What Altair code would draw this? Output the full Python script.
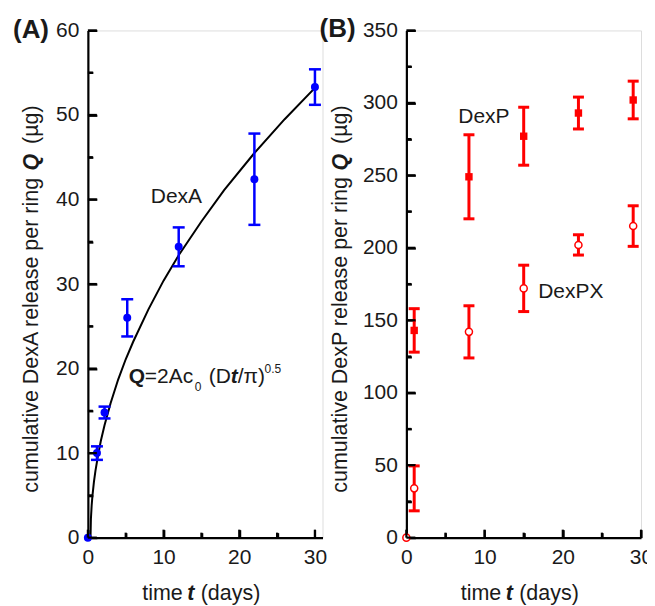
import altair as alt
import pandas as pd

FONT = "Liberation Sans"

# ---------------- Panel A : DexA ----------------
a_t = [0, 1.2, 2.2, 5.2, 12, 22, 30]
a_q = [0, 10.0, 14.8, 26.0, 34.4, 42.4, 53.3]
a_err = [0, 0.8, 0.7, 2.2, 2.3, 5.4, 2.1]

fit_t = [0.35, 0.4, 0.5, 0.6, 0.8, 1.0, 1.3, 1.7, 2.2, 3, 4, 5, 6, 8, 10, 12, 15, 18, 22, 26, 30]
fit_q = [0, 2.2, 3.8, 4.9, 6.6, 7.9, 9.5, 11.4, 13.3, 15.9, 18.7, 21.1, 23.2, 27.0, 30.4, 33.4, 37.4, 41.1, 45.5, 49.5, 53.2]

# ---------------- Panel B : DexP / DexPX ----------------
p_t = [1, 8, 15, 22, 29]
dexp_q = [143, 249, 277, 293, 302]
dexp_err = [15, 29, 20, 11, 13]

px_t = [0, 1, 8, 15, 22, 29]
dexpx_q = [0, 34, 142, 172, 202, 215]
dexpx_err = [0, 15.5, 18, 16, 7, 14]

# ---------------- tick values (major + minor) ----------------
x_ticks = [0, 5, 10, 15, 20, 25, 30]
a_y_ticks = [0, 5, 10, 15, 20, 25, 30, 35, 40, 45, 50, 55, 60]
b_y_ticks = [0, 25, 50, 75, 100, 125, 150, 175, 200, 225, 250, 275, 300, 325, 350]

W, H = 235, 508
TXT = "#1a1a1a"


def label(text, x, y, size=21, weight="normal", style="normal", align="left",
          angle=0, baseline="alphabetic"):
    return alt.Chart(pd.DataFrame({"s": [text]})).mark_text(
        font=FONT, fontSize=size, fontWeight=weight, fontStyle=style,
        align=align, baseline=baseline, angle=angle, color=TXT
    ).encode(x=alt.value(x), y=alt.value(y), text="s:N")


def err_df(t, q, e):
    df = pd.DataFrame({"t": t, "q": q, "e": e})
    df["lo"] = df["q"] - df["e"]
    df["hi"] = df["q"] + df["e"]
    return df


def make_axis(vals, step, major_len, minor_len):
    test = f"datum.value % {step} === 0"
    return alt.Axis(
        values=vals, title=None, grid=False,
        ticks=True, tickColor="black", tickWidth=2.2,
        tickSize={"condition": {"test": test, "expr": f"-{major_len}"},
                  "expr": f"-{minor_len}"},
        labelPadding={"condition": {"test": test, "expr": f"{major_len + 9}"},
                      "expr": f"{minor_len + 9}"},
        labelExpr=f"{test} ? datum.label : ''",
        domainWidth=2.2, domainColor="black",
        labelFlush=False, labelOverlap=False,
        labelFontSize=21, labelFont=FONT, labelColor=TXT, format="d")


def tick_marks(X, Y, xdom, ydom, xvals, xstep, yvals, ystep):
    """Inward ticks drawn as short rules (lengths in pixels, converted to data units)."""
    layers = []
    dx = pd.DataFrame({"tx": xvals})
    dx["ty0"] = ydom[0]
    dx["ty1"] = [ydom[0] + (8 if v % xstep == 0 else 5) * (ydom[1] - ydom[0]) / H for v in xvals]
    layers.append(alt.Chart(dx).mark_rule(color="black", strokeWidth=2.2).encode(
        x=X("tx:Q"), y=Y("ty0:Q"), y2="ty1:Q"))
    dy = pd.DataFrame({"ty": yvals})
    dy["tx0"] = xdom[0]
    dy["tx1"] = [xdom[0] + (9 if v % ystep == 0 else 5) * (xdom[1] - xdom[0]) / W for v in yvals]
    layers.append(alt.Chart(dy).mark_rule(color="black", strokeWidth=2.2).encode(
        y=Y("ty:Q"), x=X("tx0:Q"), x2="tx1:Q"))
    return layers


def errbars(df, X, Y, color, width, cap):
    d = df[df["e"] > 0]
    rule = alt.Chart(d).mark_rule(color=color, strokeWidth=width).encode(
        x=X("t:Q"), y=Y("lo:Q"), y2="hi:Q")
    c1 = alt.Chart(d).mark_tick(orient="horizontal", size=cap, thickness=width,
                                color=color, opacity=1).encode(x=X("t:Q"), y=Y("lo:Q"))
    c2 = alt.Chart(d).mark_tick(orient="horizontal", size=cap, thickness=width,
                                color=color, opacity=1).encode(x=X("t:Q"), y=Y("hi:Q"))
    return [rule, c1, c2]


def x_title():
    return [
        label("time", 95, 570, size=21.5, align="right"),
        label("t", 99.5, 570, size=21.5, weight="bold", style="italic"),
        label("(days)", 113, 570, size=21.5),
    ]


def y_title(first, x):
    return [
        label(first, x, 463, size=21.5, align="left", angle=270, baseline="middle"),
        label("Q", x, 132, size=21.5, weight="bold", style="italic", align="center",
              angle=270, baseline="middle"),
        label("(µg)", x, 75, size=21.5, align="right", angle=270, baseline="middle"),
    ]


# ---------- Panel A ----------
xdomA, ydomA = [0, 31], [0, 60]
xsA = alt.Scale(domain=xdomA, nice=False, zero=False)
ysA = alt.Scale(domain=ydomA, nice=False)
xaxA = make_axis(x_ticks, 10, 8, 5)
yaxA = make_axis(a_y_ticks, 10, 9, 5)
XA = lambda f: alt.X(f, scale=xsA, axis=xaxA)
YA = lambda f: alt.Y(f, scale=ysA, axis=yaxA)

dfA = err_df(a_t, a_q, a_err)
fitA = alt.Chart(pd.DataFrame({"t": fit_t, "q": fit_q})).mark_line(
    color="black", strokeWidth=2).encode(x=XA("t:Q"), y=YA("q:Q"))
ptsA = alt.Chart(dfA).mark_circle(size=64, color="#0000ff", opacity=1).encode(
    x=XA("t:Q"), y=YA("q:Q"))

annA = [
    label("(A)", -75, 8, size=26, weight="bold"),
    label("DexA", 63, 173, size=21),
    label("Q", 41, 353, size=21, weight="bold"),
    label("=2Ac", 57, 353, size=21),
    label("0", 107, 361, size=12),
    label("(D", 121, 353, size=21),
    label("t", 143, 353, size=21, weight="bold", style="italic"),
    label("/π)", 150, 353, size=21),
    label("0.5", 177, 343, size=12),
]

panelA = alt.layer(
    fitA, *errbars(dfA, XA, YA, "#0000ff", 2.5, 12), ptsA,
    *annA, *x_title(), *y_title("cumulative DexA release per ring", -56),
    *tick_marks(XA, YA, xdomA, ydomA, x_ticks, 10, a_y_ticks, 10)
).properties(width=W, height=H)

# ---------- Panel B ----------
xdomB, ydomB = [0, 30], [0, 350]
xsB = alt.Scale(domain=xdomB, nice=False, zero=False)
ysB = alt.Scale(domain=ydomB, nice=False)
xaxB = make_axis(x_ticks, 10, 8, 5)
yaxB = make_axis(b_y_ticks, 50, 9, 5)
XB = lambda f: alt.X(f, scale=xsB, axis=xaxB)
YB = lambda f: alt.Y(f, scale=ysB, axis=yaxB)

dfP = err_df(p_t, dexp_q, dexp_err)
dfPX = err_df(px_t, dexpx_q, dexpx_err)
sqP = alt.Chart(dfP).mark_square(size=55, color="#ff0000", opacity=1).encode(
    x=XB("t:Q"), y=YB("q:Q"))
ciPX = alt.Chart(dfPX).mark_point(shape="circle", size=50, fill="white", fillOpacity=1,
                                  stroke="#ff0000", strokeWidth=1.5, opacity=1,
                                  filled=False).encode(x=XB("t:Q"), y=YB("q:Q"))

annB = [
    label("(B)", -87, 7, size=26, weight="bold"),
    label("DexP", 52, 93, size=21),
    label("DexPX", 132, 268, size=21),
]

panelB = alt.layer(
    *errbars(dfP, XB, YB, "#ff0000", 3, 11), sqP,
    *errbars(dfPX, XB, YB, "#ff0000", 3, 11), ciPX,
    *annB, *x_title(), *y_title("cumulative DexP release per ring", -65),
    *tick_marks(XB, YB, xdomB, ydomB, x_ticks, 10, b_y_ticks, 50)
).properties(width=W, height=H)

chart = alt.hconcat(panelA, panelB, spacing=84, bounds="flush").properties(
    padding={"left": 4, "top": 7, "right": -7, "bottom": 0}
).configure_view(stroke=None).configure(background="white")

chart.save("out.html", embed_options={"renderer": "svg", "actions": False})
